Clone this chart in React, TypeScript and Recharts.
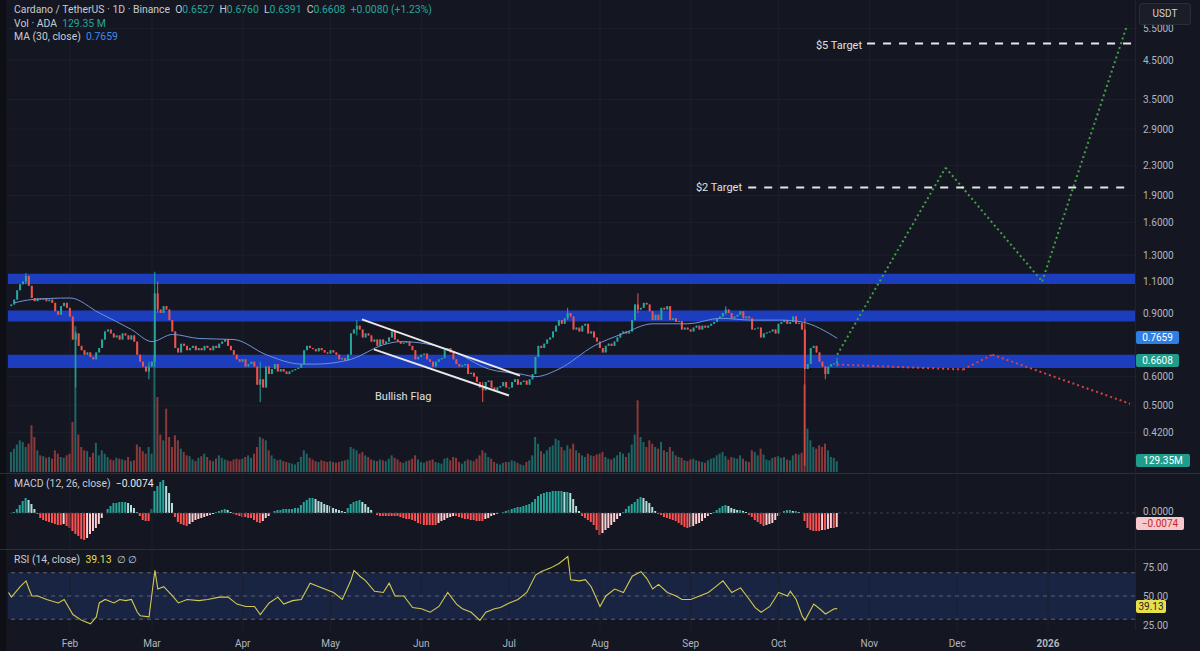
import React from "react";
import { ComposedChart, Bar, Line, XAxis, YAxis, ReferenceLine, ReferenceArea, Cell } from "recharts";

const GREEN = "#26a69a";
const RED = "#ef5350";
const BG = "#141722";
const GRID = "#1c202b";
const AXIS_TEXT = "#b2b5be";
const BAND = "#1c3dbd";
const FONT = "Roboto, 'Noto Sans', sans-serif";

// day index: 0 = 1 Jan 2025
const X_DOMAIN: [number, number] = [9.83, 394.7];
const MONTH_DAYS = [31, 59, 90, 120, 151, 181, 212, 243, 273, 304, 334, 365];
const MONTH_LABELS = ["Feb", "Mar", "Apr", "May", "Jun", "Jul", "Aug", "Sep", "Oct", "Nov", "Dec", "2026"];
const PRICE_TICKS = [5.5, 4.5, 3.5, 2.9, 2.3, 1.9, 1.6, 1.3, 1.1, 0.9, 0.6, 0.5, 0.42];

const FIRST_DAY = 11;
const FIRST_OPEN = 0.94;
const CLOSE_JAN = [0.95, 0.98, 1.04, 1.08, 1.1, 1.14, 1.07, 0.99, 0.97, 0.99, 0.98, 0.99, 0.97, 0.98, 0.96, 0.91, 0.89, 0.94, 0.96, 0.93];
const CLOSE_FEB = [0.88, 0.76, 0.79, 0.73, 0.71, 0.69, 0.7, 0.68, 0.67, 0.7, 0.72, 0.76, 0.8, 0.81, 0.79, 0.77, 0.78, 0.76, 0.79, 0.78, 0.76, 0.78, 0.75, 0.69, 0.66, 0.64, 0.62, 0.64];
const CLOSE_MAR = [0.66, 1.02, 0.92, 0.9, 0.94, 0.92, 0.86, 0.8, 0.72, 0.7, 0.74, 0.73, 0.71, 0.72, 0.73, 0.71, 0.72, 0.71, 0.73, 0.72, 0.71, 0.73, 0.72, 0.74, 0.75, 0.76, 0.73, 0.71, 0.69, 0.67, 0.66];
const CLOSE_APR = [0.67, 0.64, 0.65, 0.66, 0.64, 0.57, 0.59, 0.56, 0.64, 0.61, 0.63, 0.65, 0.62, 0.63, 0.62, 0.61, 0.62, 0.625, 0.63, 0.635, 0.65, 0.71, 0.73, 0.72, 0.715, 0.705, 0.72, 0.71, 0.7, 0.695];
const CLOSE_MAY = [0.71, 0.7, 0.69, 0.67, 0.675, 0.665, 0.69, 0.79, 0.81, 0.83, 0.81, 0.77, 0.79, 0.78, 0.75, 0.76, 0.73, 0.76, 0.74, 0.75, 0.77, 0.8, 0.76, 0.75, 0.74, 0.745, 0.75, 0.73, 0.71, 0.67, 0.68];
const CLOSE_JUN = [0.69, 0.695, 0.67, 0.66, 0.64, 0.66, 0.67, 0.675, 0.71, 0.72, 0.7, 0.67, 0.65, 0.64, 0.645, 0.65, 0.61, 0.615, 0.6, 0.58, 0.56, 0.55, 0.58, 0.585, 0.56, 0.55, 0.56, 0.565, 0.58, 0.56];
const CLOSE_JUL = [0.56, 0.58, 0.59, 0.57, 0.58, 0.585, 0.57, 0.59, 0.61, 0.68, 0.73, 0.72, 0.74, 0.76, 0.77, 0.8, 0.83, 0.86, 0.84, 0.87, 0.9, 0.88, 0.81, 0.82, 0.8, 0.83, 0.84, 0.79, 0.8, 0.77, 0.75];
const CLOSE_AUG = [0.72, 0.7, 0.73, 0.74, 0.73, 0.75, 0.77, 0.79, 0.8, 0.79, 0.8, 0.86, 0.95, 0.92, 0.93, 0.96, 0.95, 0.91, 0.86, 0.89, 0.86, 0.93, 0.92, 0.94, 0.86, 0.87, 0.85, 0.855, 0.81, 0.82, 0.81];
const CLOSE_SEP = [0.8, 0.82, 0.83, 0.81, 0.83, 0.82, 0.83, 0.84, 0.85, 0.87, 0.88, 0.9, 0.92, 0.9, 0.87, 0.88, 0.89, 0.91, 0.87, 0.88, 0.87, 0.81, 0.815, 0.82, 0.77, 0.79, 0.795, 0.8, 0.81, 0.79];
const CLOSE_OCT = [0.84, 0.85, 0.86, 0.84, 0.85, 0.88, 0.84, 0.845, 0.81, 0.63, 0.65, 0.72, 0.73, 0.7, 0.66, 0.64, 0.61, 0.64, 0.65, 0.6527, 0.6608];

// volume in millions ADA
const VOL_JAN = [240, 280, 330, 380, 360, 300, 340, 560, 420, 260, 200, 190, 170, 180, 160, 260, 220, 180, 170, 200];
const VOL_FEB = [220, 600, 1750, 450, 300, 260, 250, 180, 230, 350, 200, 260, 220, 180, 150, 140, 170, 160, 150, 140, 180, 130, 140, 330, 300, 250, 220, 300];
const VOL_MAR = [220, 1400, 900, 450, 380, 760, 420, 300, 440, 380, 280, 240, 200, 190, 150, 130, 170, 190, 220, 180, 140, 130, 160, 200, 170, 150, 140, 130, 150, 160, 150];
const VOL_APR = [160, 180, 200, 170, 220, 300, 420, 400, 380, 260, 200, 160, 140, 150, 130, 120, 110, 100, 90, 120, 180, 260, 220, 170, 150, 130, 120, 140, 130, 120];
const VOL_MAY = [130, 120, 110, 120, 130, 140, 150, 300, 280, 260, 220, 240, 200, 180, 150, 140, 130, 150, 140, 130, 160, 200, 170, 150, 120, 110, 130, 140, 160, 200, 150];
const VOL_JUN = [120, 110, 130, 140, 150, 120, 110, 100, 160, 170, 140, 180, 170, 120, 100, 130, 150, 140, 130, 160, 200, 260, 230, 180, 160, 120, 100, 90, 110, 120];
const VOL_JUL = [120, 140, 130, 110, 90, 80, 120, 140, 200, 420, 340, 250, 220, 260, 300, 320, 400, 380, 300, 260, 320, 280, 340, 260, 230, 200, 180, 220, 200, 190, 210];
const VOL_AUG = [220, 240, 180, 160, 150, 170, 200, 240, 220, 180, 230, 330, 450, 860, 420, 360, 300, 380, 340, 300, 280, 360, 260, 240, 300, 250, 200, 180, 170, 140, 130];
const VOL_SEP = [150, 160, 140, 130, 120, 110, 140, 160, 170, 200, 220, 240, 190, 150, 180, 170, 160, 200, 160, 130, 120, 260, 240, 200, 280, 210, 150, 140, 170, 180];
const VOL_OCT = [190, 170, 180, 150, 140, 200, 220, 210, 230, 1050, 520, 380, 300, 280, 320, 300, 340, 260, 180, 170, 129.35];

// candles with visible wicks
const WICK_DAYS = [16, 33, 58, 60, 61, 96, 129, 172, 201, 225, 255, 282, 289, 293];
const WICK_HIGHS = [1.16, 0.8, 0.66, 1.17, 1.1, 0.66, 0.86, 0.58, 0.93, 1.02, 0.94, 0.87, 0.64, 0.676];
const WICK_LOWS = [1.08, 0.56, 0.59, 0.64, 0.9, 0.51, 0.78, 0.51, 0.86, 0.9, 0.89, 0.34, 0.59, 0.6391];

const MA_DAYS = [12, 18, 31, 41, 52, 59, 66, 75, 87, 98, 110, 115, 127, 138, 144, 161, 174, 185, 190, 198, 210, 220, 230, 242, 253, 264, 274, 281, 293];
const MA_VALUES = [0.96, 0.98, 0.99, 0.9, 0.81, 0.75, 0.785, 0.765, 0.76, 0.69, 0.65, 0.65, 0.67, 0.735, 0.75, 0.71, 0.63, 0.61, 0.6, 0.63, 0.73, 0.79, 0.84, 0.84, 0.87, 0.86, 0.86, 0.85, 0.766];

// MACD histogram, daily from FIRST_DAY, in thousandths
const MACD_HIST = [
  0, 1, 4, 8, 12, 15, 13, 9, 4, -1,
  -5, -7, -8, -9, -10, -11, -12, -12, -11, -13,
  -15, -18, -21, -23, -26, -27, -25, -21, -18, -15,
  -11, -5, 0, 4, 7, 10, 10, 11, 11, 11,
  10, 8, 5, 1, -3, -7, -8, -8, 4, 22,
  27, 31, 33, 27, 20, 10, -4, -9, -11, -12,
  -13, -11, -9, -7, -6, -5, -4, -3, -2, -1,
  1, 2, 3, 4, 3, 1, -1, -2, -3, -4,
  -4, -5, -5, -7, -9, -10, -8, -5, -3, 0,
  2, 3, 3, 4, 4, 4, 4, 5, 5, 8,
  11, 13, 15, 15, 14, 12, 11, 9, 8, 7,
  5, 4, 3, 2, 1, 5, 9, 11, 12, 13,
  11, 9, 6, 3, 0, -2, -3, -3, -3, -3,
  -3, -3, -3, -4, -5, -6, -6, -7, -8, -10,
  -11, -12, -12, -12, -12, -12, -10, -8, -7, -5,
  -4, -3, -3, -4, -5, -6, -6, -7, -7, -8,
  -8, -8, -6, -5, -3, -2, -1, 0, 1, 2,
  3, 4, 5, 6, 6, 7, 8, 9, 11, 14,
  17, 19, 20, 21, 21, 22, 22, 22, 22, 21,
  21, 20, 14, 7, 2, -3, -5, -7, -9, -12,
  -17, -22, -20, -17, -15, -12, -9, -6, -3, 1,
  4, 7, 9, 11, 14, 16, 15, 12, 10, 6,
  2, -1, -2, -4, -5, -6, -7, -8, -10, -12,
  -14, -15, -14, -13, -11, -10, -8, -5, -3, -1,
  1, 3, 5, 7, 8, 7, 5, 4, 3, 3,
  2, 1, -2, -4, -7, -9, -11, -13, -12, -11,
  -10, -7, -3, 0, 2, 3, 3, 2, 2, 1,
  0, -8, -15, -17, -18, -18, -18, -17, -17, -16,
  -15, -15, -14,
];

const RSI_DAYS = [10, 11, 14, 16, 17, 18, 20, 23, 27, 29, 32, 35, 38, 40, 41, 43, 46, 48, 50, 52, 54, 55, 58, 60, 61, 63, 66, 68, 71, 75, 78, 82, 85, 88, 91, 94, 96, 99, 102, 104, 107, 110, 113, 116, 118, 121, 124, 127, 128, 130, 132, 135, 138, 140, 142, 145, 148, 151, 154, 157, 160, 163, 165, 168, 171, 173, 176, 178, 181, 184, 187, 190, 192, 195, 198, 201, 202, 205, 207, 209, 212, 214, 217, 220, 223, 226, 228, 230, 232, 235, 238, 240, 243, 246, 249, 251, 254, 257, 260, 263, 265, 267, 270, 273, 276, 277, 279, 281, 282, 285, 287, 289, 292, 293];
const RSI_VALUES = [53, 49, 58, 63, 56, 50, 50, 47, 44, 47, 34, 29, 26, 32, 44, 47, 44, 47, 46, 47, 36, 33, 32, 72, 56, 58, 50, 44, 47, 46, 47, 49, 49, 43, 41, 41, 34, 44, 49, 43, 46, 47, 61, 58, 56, 53, 47, 64, 72, 67, 63, 54, 53, 61, 50, 50, 40, 39, 36, 41, 53, 43, 39, 36, 29, 36, 39, 40, 44, 47, 53, 68, 71, 74, 78, 84, 64, 63, 64, 58, 41, 50, 56, 53, 67, 71, 65, 56, 60, 53, 50, 47, 47, 50, 53, 57, 63, 53, 57, 47, 40, 36, 41, 53, 50, 54, 47, 33, 29, 43, 39, 34.5, 39, 39.13];

// support / resistance zones (low, high)
const BAND_LOWS = [1.083, 0.853, 0.634];
const BAND_HIGHS = [1.155, 0.914, 0.69];

// drawn annotations
const FLAG_UPPER_DAYS = [130.7, 184.7];
const FLAG_UPPER_PRICES = [0.864, 0.604];
const FLAG_LOWER_DAYS = [134.8, 180.9];
const FLAG_LOWER_PRICES = [0.714, 0.532];
const BULL_DAYS = [293, 330, 363, 392];
const BULL_PRICES = [0.69, 2.27, 1.1, 5.63];
const BEAR_DAYS = [293, 336, 346, 393];
const BEAR_PRICES = [0.648, 0.628, 0.69, 0.505];
const TARGET_PRICES = [5, 2];
const TARGET_FROM = [303.2, 262.6];
const TARGET_TO = [394.7, 392.3];

const CLOSES = [...CLOSE_JAN, ...CLOSE_FEB, ...CLOSE_MAR, ...CLOSE_APR, ...CLOSE_MAY, ...CLOSE_JUN, ...CLOSE_JUL, ...CLOSE_AUG, ...CLOSE_SEP, ...CLOSE_OCT];
const VOLUMES = [...VOL_JAN, ...VOL_FEB, ...VOL_MAR, ...VOL_APR, ...VOL_MAY, ...VOL_JUN, ...VOL_JUL, ...VOL_AUG, ...VOL_SEP, ...VOL_OCT];

const rows = CLOSES.map((c, i) => {
  const d = FIRST_DAY + i;
  const o = i === 0 ? FIRST_OPEN : CLOSES[i - 1];
  const w = WICK_DAYS.indexOf(d);
  const h = Math.max(o, c, w >= 0 ? WICK_HIGHS[w] : 0);
  const l = Math.min(o, c, w >= 0 ? WICK_LOWS[w] : Infinity);
  const m = MA_DAYS.indexOf(d);
  return { d, o, c, h, l, range: [l, h], vol: VOLUMES[i], ma: m >= 0 ? MA_VALUES[m] : null, macd: MACD_HIST[i] };
});
const rsiRows = RSI_DAYS.map((d, i) => ({ d, rsi: RSI_VALUES[i] }));

function macdColor(i: number) {
  const v = MACD_HIST[i];
  const prev = i > 0 ? MACD_HIST[i - 1] : 0;
  if (v >= 0) return v >= prev ? GREEN : "#b2dfdb";
  return v <= prev ? "#ff5252" : "#ffcdd2";
}

function Candle(props: any) {
  const { x, y, width, height, payload } = props;
  if (x == null || y == null || !payload) return null;
  const top = Math.min(y, y + height);
  const hh = Math.abs(height);
  const lh = Math.log(payload.h);
  const span = lh - Math.log(payload.l);
  const py = (p: number) => (span > 0 ? top + ((lh - Math.log(p)) / span) * hh : top);
  const color = payload.c >= payload.o ? GREEN : RED;
  const cx = x + width / 2;
  const yo = py(payload.o);
  const yc = py(payload.c);
  return (
    <g>
      <line x1={cx} x2={cx} y1={top} y2={top + hh} stroke={color} strokeWidth={1} />
      <rect x={cx - 1} y={Math.min(yo, yc)} width={2} height={Math.max(1, Math.abs(yo - yc))} fill={color} />
    </g>
  );
}

function MonthTick(props: any) {
  const { x, y, payload } = props;
  const label = MONTH_LABELS[MONTH_DAYS.indexOf(payload.value)];
  return (
    <text x={x} y={y + 9} textAnchor="middle" fill={AXIS_TEXT} fontSize={10} fontFamily={FONT} fontWeight={label === "2026" ? 700 : 400}>
      {label}
    </text>
  );
}

const monthLines = (yId: string) =>
  MONTH_DAYS.map((d) => <ReferenceLine key={"m" + d} xAxisId="x" yAxisId={yId} x={d} stroke={GRID} />);

const MARGIN_AXIS = { top: 0, right: 0, bottom: 0, left: 8 };
const MARGIN_PLOT = { top: 0, right: 65, bottom: 0, left: 8 };
const tickStyle = { fill: AXIS_TEXT, fontSize: 10, fontFamily: FONT };

const TAGS = [
  { text: "0.7659", y: 337, bg: "#2f7fe3", color: "#ffffff", w: 43 },
  { text: "0.6608", y: 360, bg: "#1f9c8c", color: "#ffffff", w: 43 },
  { text: "129.35M", y: 460, bg: "#1f9c8c", color: "#ffffff", w: 54 },
  { text: "\u22120.0074", y: 523, bg: "#f7c9cc", color: "#c62828", w: 48 },
  { text: "39.13", y: 606, bg: "#e8df4c", color: "#222222", w: 30 },
];

export default function App() {
  const abs = (top: number): React.CSSProperties => ({ position: "absolute", left: 0, top });
  return (
    <div style={{ position: "absolute", left: 0, top: 0, width: 1200, height: 651, background: BG, overflow: "hidden", fontFamily: FONT }}>
      {/* price pane: grid and axis */}
      <div style={abs(0)}>
        <ComposedChart width={1200} height={472} data={rows} margin={MARGIN_AXIS}>
          <XAxis xAxisId="x" type="number" dataKey="d" domain={X_DOMAIN} allowDataOverflow hide />
          <YAxis yAxisId="p" orientation="right" scale="log" domain={[0.327, 6.6]} allowDataOverflow ticks={PRICE_TICKS}
            tickFormatter={(v: number) => v.toFixed(4)} tick={tickStyle} axisLine={false} tickLine={false} width={65} />
          {monthLines("p")}
          {PRICE_TICKS.map((t) => <ReferenceLine key={"g" + t} xAxisId="x" yAxisId="p" y={t} stroke={GRID} />)}
        </ComposedChart>
      </div>
      {/* price pane: zones, volume, candles, MA, drawings */}
      <div style={abs(0)}>
        <ComposedChart width={1200} height={472} data={rows} margin={MARGIN_PLOT} barGap={0}>
          <XAxis xAxisId="x" type="number" dataKey="d" domain={X_DOMAIN} allowDataOverflow hide />
          <XAxis xAxisId="xv" type="number" dataKey="d" domain={X_DOMAIN} allowDataOverflow hide />
          <YAxis yAxisId="p" scale="log" domain={[0.327, 6.6]} allowDataOverflow hide />
          <YAxis yAxisId="v" domain={[0, 5664]} allowDataOverflow hide />
          {BAND_LOWS.map((lo, i) => (
            <ReferenceArea key={"b" + i} xAxisId="x" yAxisId="p" y1={lo} y2={BAND_HIGHS[i]} fill={BAND} fillOpacity={1} stroke="none" />
          ))}
          <Bar xAxisId="xv" yAxisId="v" dataKey="vol" barSize={2} isAnimationActive={false}>
            {rows.map((r, i) => <Cell key={i} fill={r.c >= r.o ? "rgba(38,166,154,0.55)" : "rgba(239,83,80,0.55)"} />)}
          </Bar>
          <Bar xAxisId="x" yAxisId="p" dataKey="range" barSize={3} shape={<Candle />} isAnimationActive={false} />
          <Line xAxisId="x" yAxisId="p" dataKey="ma" type="monotone" connectNulls dot={false} stroke="#6f93d6" strokeWidth={1} isAnimationActive={false} />
          <ReferenceLine xAxisId="x" yAxisId="p" segment={[{ x: FLAG_UPPER_DAYS[0], y: FLAG_UPPER_PRICES[0] }, { x: FLAG_UPPER_DAYS[1], y: FLAG_UPPER_PRICES[1] }]} stroke="#e8e8e8" strokeWidth={2} />
          <ReferenceLine xAxisId="x" yAxisId="p" segment={[{ x: FLAG_LOWER_DAYS[0], y: FLAG_LOWER_PRICES[0] }, { x: FLAG_LOWER_DAYS[1], y: FLAG_LOWER_PRICES[1] }]} stroke="#e8e8e8" strokeWidth={2} />
          {BULL_DAYS.slice(1).map((d, i) => (
            <ReferenceLine key={"bu" + i} xAxisId="x" yAxisId="p" segment={[{ x: BULL_DAYS[i], y: BULL_PRICES[i] }, { x: d, y: BULL_PRICES[i + 1] }]}
              stroke="#43a047" strokeWidth={2} strokeDasharray="2 3" />
          ))}
          {BEAR_DAYS.slice(1).map((d, i) => (
            <ReferenceLine key={"be" + i} xAxisId="x" yAxisId="p" segment={[{ x: BEAR_DAYS[i], y: BEAR_PRICES[i] }, { x: d, y: BEAR_PRICES[i + 1] }]}
              stroke="#d84343" strokeWidth={2} strokeDasharray="2 3" />
          ))}
          {TARGET_PRICES.map((p, i) => (
            <ReferenceLine key={"t" + i} xAxisId="x" yAxisId="p" segment={[{ x: TARGET_FROM[i], y: p }, { x: TARGET_TO[i], y: p }]}
              stroke="#e6e6e6" strokeWidth={2} strokeDasharray="8 8" />
          ))}
        </ComposedChart>
      </div>

      {/* MACD pane */}
      <div style={abs(475)}>
        <ComposedChart width={1200} height={73} data={rows} margin={MARGIN_AXIS} barGap={0}>
          <XAxis xAxisId="x" type="number" dataKey="d" domain={X_DOMAIN} allowDataOverflow hide />
          <YAxis yAxisId="m" orientation="right" domain={[-35, 38]} allowDataOverflow ticks={[0]}
            tickFormatter={() => "0.0000"} tick={{ ...tickStyle, dy: -2 }} axisLine={false} tickLine={false} width={65} />
          {monthLines("m")}
          <ReferenceLine xAxisId="x" yAxisId="m" y={0} stroke="#3a3e4a" strokeDasharray="3 3" />
          <Bar xAxisId="x" yAxisId="m" dataKey="macd" barSize={2} isAnimationActive={false}>
            {rows.map((r, i) => <Cell key={i} fill={macdColor(i)} />)}
          </Bar>
        </ComposedChart>
      </div>

      {/* RSI pane */}
      <div style={abs(550)}>
        <ComposedChart width={1200} height={101} data={rsiRows} margin={MARGIN_AXIS}>
          <XAxis xAxisId="x" type="number" dataKey="d" domain={X_DOMAIN} allowDataOverflow ticks={MONTH_DAYS} interval={0}
            tick={<MonthTick />} axisLine={false} tickLine={false} height={21} />
          <YAxis yAxisId="r" orientation="right" domain={[20.7, 89.6]} allowDataOverflow ticks={[25, 50, 75]}
            tickFormatter={(v: number) => v.toFixed(2)} tick={tickStyle} axisLine={false} tickLine={false} width={65} />
          {monthLines("r")}
          <ReferenceArea xAxisId="x" yAxisId="r" y1={30} y2={70} fill="#1a2647" fillOpacity={0.9} stroke="none" />
          {[70, 50, 30].map((v) => <ReferenceLine key={"r" + v} xAxisId="x" yAxisId="r" y={v} stroke="#5d6170" strokeDasharray="4 4" />)}
          <Line xAxisId="x" yAxisId="r" dataKey="rsi" type="linear" dot={false} stroke="#d2c94f" strokeWidth={1.1} isAnimationActive={false} />
        </ComposedChart>
      </div>

      {/* pane borders */}
      <div style={{ position: "absolute", left: 0, top: 0, width: 6, height: 651, background: "#0d0f15" }} />
      <div style={{ position: "absolute", left: 0, top: 473, width: 1200, height: 1, background: "#2a2e39" }} />
      <div style={{ position: "absolute", left: 0, top: 549, width: 1200, height: 1, background: "#2a2e39" }} />
      <div style={{ position: "absolute", left: 1135, top: 0, width: 1, height: 630, background: "#1f2330" }} />

      {/* legends */}
      <div style={{ position: "absolute", left: 14, top: 3, fontSize: 10.4, lineHeight: "13.5px", color: "#c7cad3", whiteSpace: "nowrap" }}>
        <div>
          Cardano / TetherUS · 1D · Binance&nbsp; O<span style={{ color: GREEN }}>0.6527</span>&nbsp; H<span style={{ color: GREEN }}>0.6760</span>&nbsp; L
          <span style={{ color: GREEN }}>0.6391</span>&nbsp; C<span style={{ color: GREEN }}>0.6608</span>&nbsp; <span style={{ color: GREEN }}>+0.0080 (+1.23%)</span>
        </div>
        <div>Vol · ADA&nbsp; <span style={{ color: GREEN }}>129.35 M</span></div>
        <div>MA (30, close)&nbsp; <span style={{ color: "#3d8bef" }}>0.7659</span></div>
      </div>
      <div style={{ position: "absolute", left: 14, top: 477, fontSize: 10.4, color: "#c7cad3", whiteSpace: "nowrap" }}>
        MACD (12, 26, close)&nbsp; <span style={{ color: "#e8e8e8" }}>{"\u22120.0074"}</span>
      </div>
      <div style={{ position: "absolute", left: 14, top: 553, fontSize: 10.4, color: "#c7cad3", whiteSpace: "nowrap" }}>
        RSI (14, close)&nbsp; <span style={{ color: "#e8df4c" }}>39.13</span>&nbsp; ∅ ∅
      </div>

      {/* drawing labels */}
      <div style={{ position: "absolute", right: 338, top: 39, fontSize: 11, color: "#e0e0e0", whiteSpace: "nowrap" }}>$5 Target</div>
      <div style={{ position: "absolute", right: 458, top: 181, fontSize: 11, color: "#e0e0e0", whiteSpace: "nowrap" }}>$2 Target</div>
      <div style={{ position: "absolute", left: 375, top: 390, fontSize: 11, color: "#e0e0e0", whiteSpace: "nowrap" }}>Bullish Flag</div>

      {/* price scale tags */}
      {TAGS.map((t) => (
        <div key={t.text} style={{ position: "absolute", left: 1136, top: t.y - 6.5, width: t.w, height: 13, lineHeight: "13px", background: t.bg, color: t.color, fontSize: 10, textAlign: "center", borderRadius: 2 }}>
          {t.text}
        </div>
      ))}
      <div style={{ position: "absolute", left: 1139, top: 3, width: 50, height: 20, lineHeight: "20px", background: "#1b1e27", border: "1px solid #2a2e39", color: "#d1d4dc", fontSize: 10, textAlign: "center", borderRadius: 3 }}>
        USDT
      </div>
    </div>
  );
}
